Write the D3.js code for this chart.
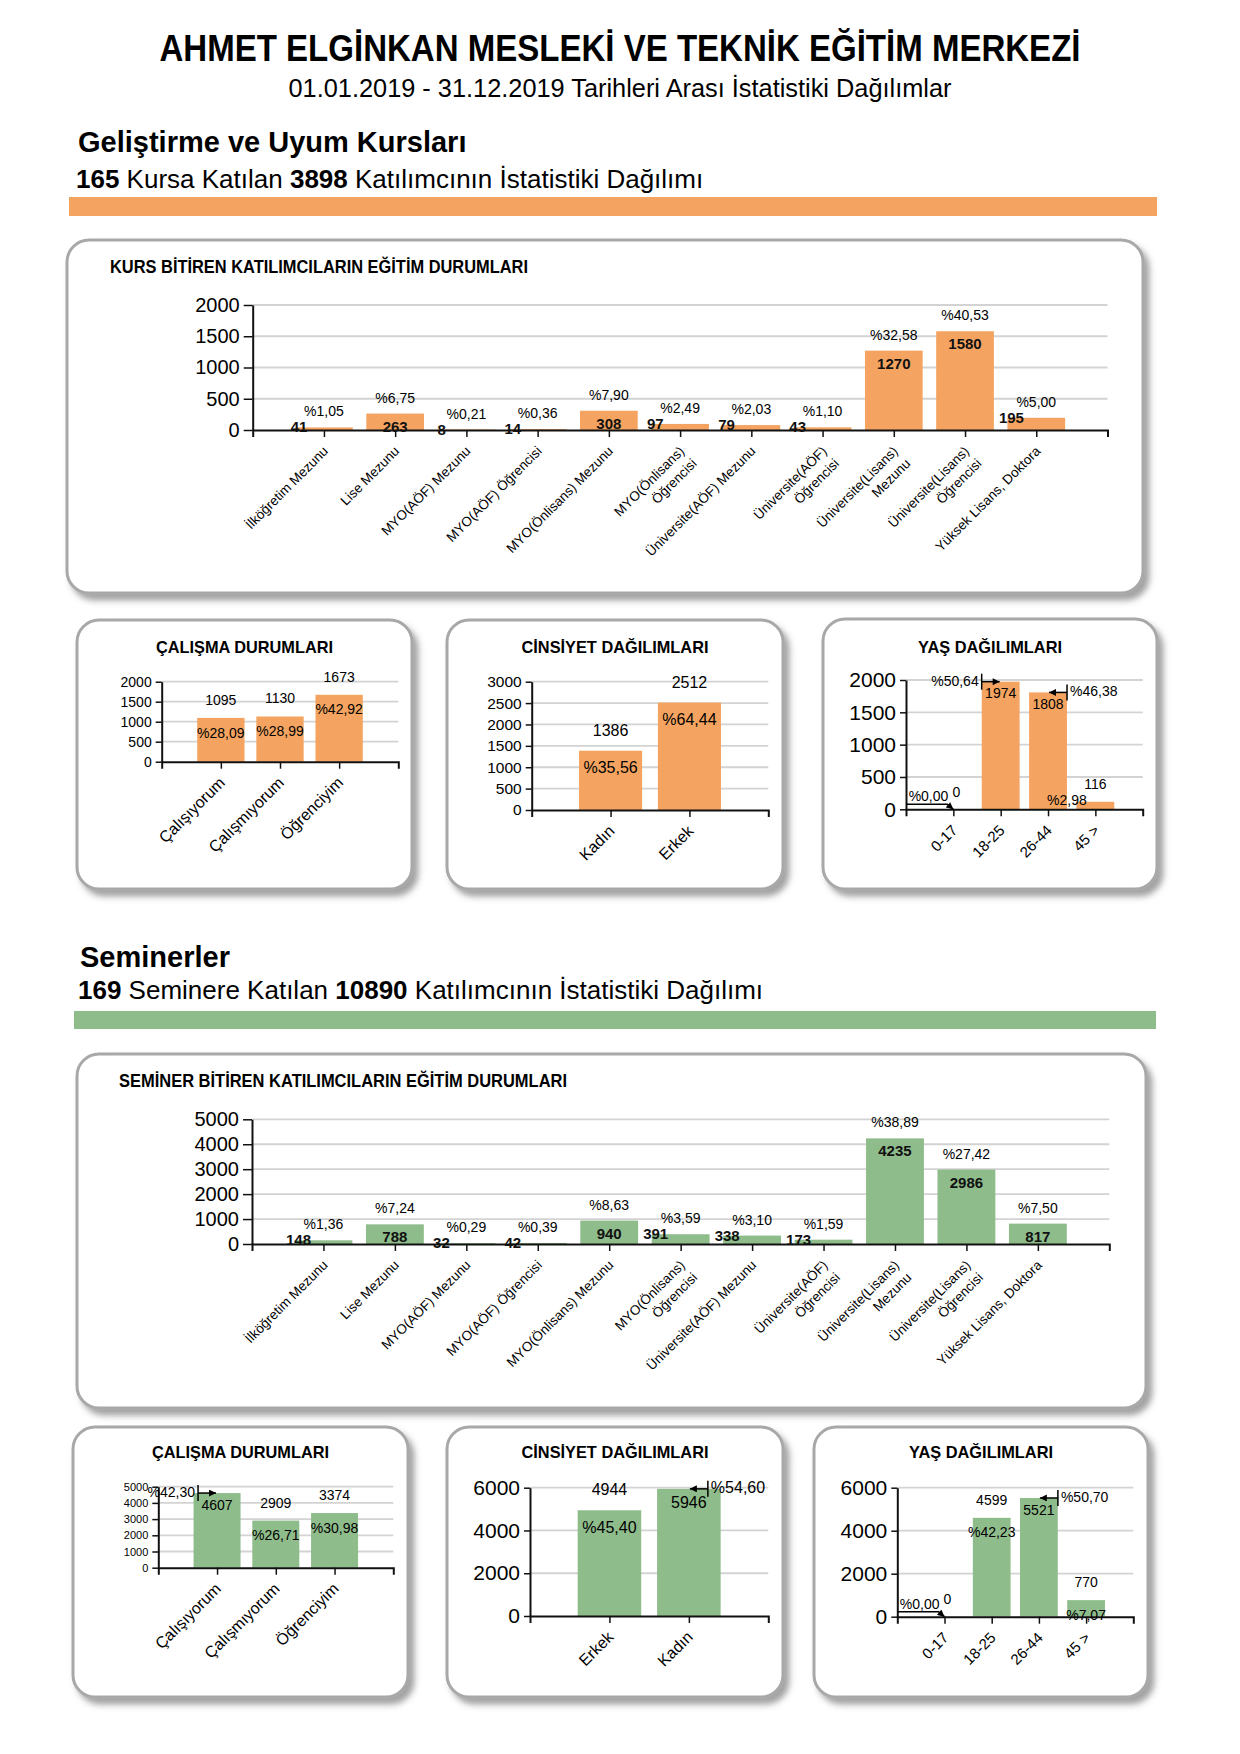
<!DOCTYPE html>
<html>
<head>
<meta charset="utf-8">
<script src="https://cdnjs.cloudflare.com/ajax/libs/d3/7.8.5/d3.min.js"></script>
<style>
  body { margin: 0; background: #fff; }
  svg text { font-family: "Liberation Sans", Arial, sans-serif; white-space: pre; }
</style>
</head>
<body>
<div class="chart"></div>
<script>
// ---- data ----
var pageTitle = 'AHMET ELGİNKAN MESLEKİ VE TEKNİK EĞİTİM MERKEZİ';
var pageSubtitle = '01.01.2019 - 31.12.2019 Tarihleri Arası İstatistiki Dağılımlar';

var kursHeading = 'Geliştirme ve Uyum Kursları';
var kursSummary = [['165', true], [' Kursa Katılan ', false], ['3898', true], [' Katılımcının İstatistiki Dağılımı', false]];
var seminerHeading = 'Seminerler';
var seminerSummary = [['169', true], [' Seminere Katılan ', false], ['10890', true], [' Katılımcının İstatistiki Dağılımı', false]];

var egitimCats = ['İlköğretim Mezunu', 'Lise Mezunu', 'MYO(AÖF) Mezunu', 'MYO(AÖF) Öğrencisi',
  'MYO(Önlisans) Mezunu', 'MYO(Önlisans)\nÖğrencisi', 'Üniversite(AÖF) Mezunu', 'Üniversite(AÖF)\nÖğrencisi',
  'Üniversite(Lisans)\nMezunu', 'Üniversite(Lisans)\nÖğrencisi', 'Yüksek Lisans, Doktora'];

var kursEgitim = [41, 263, 8, 14, 308, 97, 79, 43, 1270, 1580, 195];
var kursEgitimPct = ['%1,05', '%6,75', '%0,21', '%0,36', '%7,90', '%2,49', '%2,03', '%1,10', '%32,58', '%40,53', '%5,00'];
var kursEgitimTicks = [0, 500, 1000, 1500, 2000];

var seminerEgitim = [148, 788, 32, 42, 940, 391, 338, 173, 4235, 2986, 817];
var seminerEgitimPct = ['%1,36', '%7,24', '%0,29', '%0,39', '%8,63', '%3,59', '%3,10', '%1,59', '%38,89', '%27,42', '%7,50'];
var seminerEgitimTicks = [0, 1000, 2000, 3000, 4000, 5000];

var calismaCats = ['Çalışıyorum', 'Çalışmıyorum', 'Öğrenciyim'];
var kursCalisma = [1095, 1130, 1673];
var kursCalismaPct = ['%28,09', '%28,99', '%42,92'];
var kursCalismaTicks = [0, 500, 1000, 1500, 2000];
var seminerCalisma = [4607, 2909, 3374];
var seminerCalismaPct = ['%42,30', '%26,71', '%30,98'];
var seminerCalismaTicks = [0, 1000, 2000, 3000, 4000, 5000];

var kursCinsiyetCats = ['Kadın', 'Erkek'];
var kursCinsiyet = [1386, 2512];
var kursCinsiyetPct = ['%35,56', '%64,44'];
var kursCinsiyetTicks = [0, 500, 1000, 1500, 2000, 2500, 3000];
var seminerCinsiyetCats = ['Erkek', 'Kadın'];
var seminerCinsiyet = [4944, 5946];
var seminerCinsiyetPct = ['%45,40', '%54,60'];
var seminerCinsiyetTicks = [0, 2000, 4000, 6000];

var yasCats = ['0-17', '18-25', '26-44', '45 >'];
var kursYas = [0, 1974, 1808, 116];
var kursYasPct = ['%0,00', '%50,64', '%46,38', '%2,98'];
var kursYasTicks = [0, 500, 1000, 1500, 2000];
var seminerYas = [0, 4599, 5521, 770];
var seminerYasPct = ['%0,00', '%42,23', '%50,70', '%7,07'];
var seminerYasTicks = [0, 2000, 4000, 6000];

var orange = '#F4A460';
var green = '#8FBC8B';

// ---- page ----
var svg = d3.select('.chart')
  .append('svg')
  .attr('width', 1240)
  .attr('height', 1754);

svg.append('rect').attr('width', 1240).attr('height', 1754).attr('fill', '#fff');

var defs = svg.append('defs');
defs.append('filter')
  .attr('id', 'shadow')
  .attr('x', '-5%').attr('y', '-5%').attr('width', '115%').attr('height', '120%')
  .append('feDropShadow')
  .attr('dx', 5).attr('dy', 6)
  .attr('stdDeviation', 3)
  .attr('flood-color', '#555')
  .attr('flood-opacity', 0.55);

defs.append('marker')
  .attr('id', 'arrow')
  .attr('viewBox', '0 0 10 10')
  .attr('refX', 10).attr('refY', 5)
  .attr('markerUnits', 'userSpaceOnUse')
  .attr('markerWidth', 9).attr('markerHeight', 7)
  .attr('orient', 'auto')
  .append('path')
  .attr('d', 'M0,0L10,5L0,10z')
  .attr('fill', '#000');

svg.append('text')
  .attr('x', 620).attr('y', 61)
  .attr('text-anchor', 'middle')
  .attr('font-size', 36).attr('font-weight', 'bold')
  .attr('textLength', 921).attr('lengthAdjust', 'spacingAndGlyphs')
  .text(pageTitle);

svg.append('text')
  .attr('x', 620).attr('y', 97)
  .attr('text-anchor', 'middle')
  .attr('font-size', 25)
  .attr('textLength', 663).attr('lengthAdjust', 'spacingAndGlyphs')
  .text(pageSubtitle);

sectionHeader(kursHeading, kursSummary, 78, 152, 188, [69, 197, 1088, 19], orange);
sectionHeader(seminerHeading, seminerSummary, 80, 967, 999, [74, 1011, 1082, 18], green);

function sectionHeader(heading, summary, x, y1, y2, band, color) {
  svg.append('text')
    .attr('x', x).attr('y', y1)
    .attr('font-size', 29).attr('font-weight', 'bold')
    .text(heading);
  var t = svg.append('text')
    .attr('x', x - 2).attr('y', y2)
    .attr('font-size', 26);
  summary.forEach(function(p) {
    t.append('tspan').attr('font-weight', p[1] ? 'bold' : null).text(p[0]);
  });
  svg.append('rect')
    .attr('x', band[0]).attr('y', band[1])
    .attr('width', band[2]).attr('height', band[3])
    .attr('fill', color);
}

function drawBox(b) {
  svg.append('rect')
    .attr('x', b[0]).attr('y', b[1])
    .attr('width', b[2]).attr('height', b[3])
    .attr('rx', 22)
    .attr('fill', '#fff')
    .attr('stroke', '#a8a8a8')
    .attr('stroke-width', 3)
    .attr('filter', 'url(#shadow)');
}

function styleAxis(a, fontSize) {
  a.attr('font-family', null).attr('font-size', fontSize);
  a.select('.domain').attr('stroke', '#111').attr('stroke-width', 2);
  a.selectAll('.tick line').attr('stroke', '#111').attr('stroke-width', 1.5);
  a.selectAll('.tick text').attr('fill', '#000');
}

function drawGrid(g, o, y) {
  var p = o.plot;
  g.selectAll('.grid')
    .data(o.ticks.slice(1))
    .enter().append('line')
    .attr('x1', p[0]).attr('x2', p[2])
    .attr('y1', d => y(d)).attr('y2', d => y(d))
    .attr('stroke', '#d3d3d3')
    .attr('stroke-width', 1.8);
}

function drawXLabels(g, o, x, fontSize) {
  var y0 = o.plot[3];
  g.selectAll('.xl')
    .data(o.cats)
    .enter().append('text')
    .attr('transform', d => 'translate(' + (x(d) + 5) + ',' + (y0 + 22) + ') rotate(-45)')
    .attr('text-anchor', 'end')
    .attr('font-size', fontSize)
    .each(function(d) {
      var t = d3.select(this);
      d.split('\n').forEach(function(line, k) {
        t.append('tspan').attr('x', 0).attr('dy', k ? '1.3em' : 0).text(line);
      });
    });
}

function drawAxes(g, o, x, y, yFont, yTickSize) {
  var p = o.plot;
  var ya = g.append('g')
    .attr('transform', 'translate(' + p[0] + ',0)')
    .call(d3.axisLeft(y).tickValues(o.ticks).tickFormat(d3.format('d'))
      .tickSize(yTickSize).tickSizeOuter(0).tickPadding(4));
  styleAxis(ya, yFont);
  var xa = g.append('g')
    .attr('transform', 'translate(0,' + p[3] + ')')
    .call(d3.axisBottom(x).tickSize(7).tickSizeOuter(7).tickFormat(''));
  styleAxis(xa, 10);
}

// big education chart
function bigChart(o) {
  drawBox(o.box);
  var g = svg.append('g');
  var p = o.plot;
  g.append('text')
    .attr('x', o.titleX).attr('y', o.titleY)
    .attr('font-size', 18).attr('font-weight', 'bold')
    .attr('textLength', o.titleLen).attr('lengthAdjust', 'spacingAndGlyphs')
    .text(o.title);

  var x = d3.scalePoint().domain(o.cats).range([p[0], p[2]]).padding(1);
  var y = d3.scaleLinear().domain([0, o.ticks[o.ticks.length - 1]]).range([p[3], p[1]]);
  var bw = x.step() * 0.81;

  drawGrid(g, o, y);

  g.selectAll('.bar')
    .data(o.values)
    .enter().append('rect')
    .attr('x', (d, i) => x(o.cats[i]) - bw / 2)
    .attr('y', d => y(d))
    .attr('width', bw)
    .attr('height', d => p[3] - y(d))
    .attr('fill', o.color);

  drawAxes(g, o, x, y, 20, 9);
  drawXLabels(g, o, x, 13.5);

  // percent labels above bars
  g.selectAll('.pct')
    .data(o.values)
    .enter().append('text')
    .attr('x', (d, i) => x(o.cats[i]))
    .attr('y', d => y(d) - 11)
    .attr('text-anchor', 'middle')
    .attr('font-size', 14)
    .text((d, i) => o.pcts[i]);

  // bold value labels: inside tall bars, pushed to the bar's left edge for short ones
  g.selectAll('.val')
    .data(o.values)
    .enter().append('text')
    .attr('x', (d, i) => p[3] - y(d) >= 15 ? x(o.cats[i]) : x(o.cats[i]) - bw / 2 + 4)
    .attr('y', d => p[3] - y(d) >= 15 ? y(d) + 18 : y(d) + 5)
    .attr('text-anchor', 'middle')
    .attr('font-size', 15).attr('font-weight', 'bold')
    .attr('fill', '#111')
    .text(d => d);
}

// small panel chart
function smallChart(o) {
  drawBox(o.box);
  var g = svg.append('g');
  var p = o.plot;
  g.append('text')
    .attr('x', o.box[0] + o.box[2] / 2).attr('y', o.titleY)
    .attr('text-anchor', 'middle')
    .attr('font-size', 17).attr('font-weight', 'bold')
    .attr('textLength', o.titleLen).attr('lengthAdjust', 'spacingAndGlyphs')
    .text(o.title);

  var x = d3.scalePoint().domain(o.cats).range([p[0], p[2]]).padding(1);
  var y = d3.scaleLinear().domain([0, o.ticks[o.ticks.length - 1]]).range([p[3], p[1]]);
  var bw = x.step() * 0.8;
  var fs = o.valFont;
  var callouts = o.callouts || {};

  drawGrid(g, o, y);

  g.selectAll('.bar')
    .data(o.values)
    .enter().append('rect')
    .attr('x', (d, i) => x(o.cats[i]) - bw / 2)
    .attr('y', d => y(d))
    .attr('width', bw)
    .attr('height', d => p[3] - y(d))
    .attr('fill', o.color);

  drawAxes(g, o, x, y, o.yFont, 6);
  drawXLabels(g, o, x, o.xFont);

  o.values.forEach(function(v, i) {
    var cx = x(o.cats[i]);
    var top = y(v);
    var kind = callouts[i];
    var valX = cx, valY = top - 0.93 * fs;
    var pctX = cx, pctY = top + 1.4 * fs, pctAnchor = 'middle';

    if (kind === 'left' || kind === 'right') {
      var s = kind === 'left' ? -1 : 1;
      valY = top + 1.2 * fs;
      pctX = cx + s * 22;
      pctY = top + 4;
      pctAnchor = kind === 'left' ? 'end' : 'start';
      g.append('line')
        .attr('x1', cx + s * 19).attr('x2', cx + s * 19)
        .attr('y1', top - 8).attr('y2', top + 8)
        .attr('stroke', '#000').attr('stroke-width', 1.5);
      g.append('line')
        .attr('x1', cx + s * 19).attr('x2', cx + s * 1)
        .attr('y1', top).attr('y2', top)
        .attr('stroke', '#000').attr('stroke-width', 1.5)
        .attr('marker-end', 'url(#arrow)');
    } else if (kind === 'zero') {
      valX = cx + 3;
      valY = p[3] - 12.5;
      pctX = cx - 5;
      pctY = p[3] - 8;
      pctAnchor = 'end';
      g.append('polyline')
        .attr('points', [[p[0], p[3] - 5], [cx - 6, p[3] - 5], [cx, p[3]]].join(' '))
        .attr('fill', 'none')
        .attr('stroke', '#000').attr('stroke-width', 1.5)
        .attr('marker-end', 'url(#arrow)');
    } else if (kind === 'shift') {
      pctX = cx - x.step() * 0.6;
      pctY = p[3] - 4;
    }

    g.append('text')
      .attr('x', valX).attr('y', valY)
      .attr('text-anchor', 'middle')
      .attr('font-size', fs)
      .text(v);
    g.append('text')
      .attr('x', pctX).attr('y', pctY)
      .attr('text-anchor', pctAnchor)
      .attr('font-size', fs)
      .text(o.pcts[i]);
  });
}

// ---- Kurslar ----
bigChart({
  box: [67, 240, 1076, 353],
  title: 'KURS BİTİREN KATILIMCILARIN EĞİTİM DURUMLARI',
  titleX: 110, titleY: 273, titleLen: 418,
  plot: [252.7, 305, 1107.5, 430],
  cats: egitimCats, values: kursEgitim, pcts: kursEgitimPct, ticks: kursEgitimTicks,
  color: orange
});

smallChart({
  box: [77, 620, 335, 269], title: 'ÇALIŞMA DURUMLARI', titleY: 653, titleLen: 177,
  plot: [161.7, 681.7, 398.3, 761.7],
  cats: calismaCats, values: kursCalisma, pcts: kursCalismaPct, ticks: kursCalismaTicks,
  yFont: 14, valFont: 14, xFont: 16, color: orange
});

smallChart({
  box: [447, 620, 336, 269], title: 'CİNSİYET DAĞILIMLARI', titleY: 653, titleLen: 187,
  plot: [531.7, 681.7, 768.3, 810],
  cats: kursCinsiyetCats, values: kursCinsiyet, pcts: kursCinsiyetPct, ticks: kursCinsiyetTicks,
  yFont: 15.5, valFont: 16, xFont: 16, color: orange
});

smallChart({
  box: [823, 619, 334, 270], title: 'YAŞ DAĞILIMLARI', titleY: 653, titleLen: 144,
  plot: [906, 680, 1142.7, 809.3],
  cats: yasCats, values: kursYas, pcts: kursYasPct, ticks: kursYasTicks,
  yFont: 21, valFont: 14, xFont: 15, color: orange,
  callouts: {0: 'zero', 1: 'left', 2: 'right', 3: 'shift'}
});

// ---- Seminerler ----
bigChart({
  box: [77, 1054, 1069, 354],
  title: 'SEMİNER BİTİREN KATILIMCILARIN EĞİTİM DURUMLARI',
  titleX: 119, titleY: 1087, titleLen: 448,
  plot: [252, 1119.3, 1109.3, 1244],
  cats: egitimCats, values: seminerEgitim, pcts: seminerEgitimPct, ticks: seminerEgitimTicks,
  color: green
});

smallChart({
  box: [73, 1427, 335, 270], title: 'ÇALIŞMA DURUMLARI', titleY: 1458, titleLen: 177,
  plot: [158.3, 1486.7, 393.3, 1567.7],
  cats: calismaCats, values: seminerCalisma, pcts: seminerCalismaPct, ticks: seminerCalismaTicks,
  yFont: 11, valFont: 14, xFont: 16, color: green,
  callouts: {0: 'left'}
});

smallChart({
  box: [447, 1427, 336, 270], title: 'CİNSİYET DAĞILIMLARI', titleY: 1458, titleLen: 187,
  plot: [530, 1487.7, 768.3, 1616],
  cats: seminerCinsiyetCats, values: seminerCinsiyet, pcts: seminerCinsiyetPct, ticks: seminerCinsiyetTicks,
  yFont: 21, valFont: 16, xFont: 16, color: green,
  callouts: {1: 'right'}
});

smallChart({
  box: [814, 1427, 334, 270], title: 'YAŞ DAĞILIMLARI', titleY: 1458, titleLen: 144,
  plot: [897.3, 1487.7, 1133.3, 1616.7],
  cats: yasCats, values: seminerYas, pcts: seminerYasPct, ticks: seminerYasTicks,
  yFont: 21, valFont: 14, xFont: 15, color: green,
  callouts: {0: 'zero', 2: 'right'}
});
</script>
</body>
</html>
